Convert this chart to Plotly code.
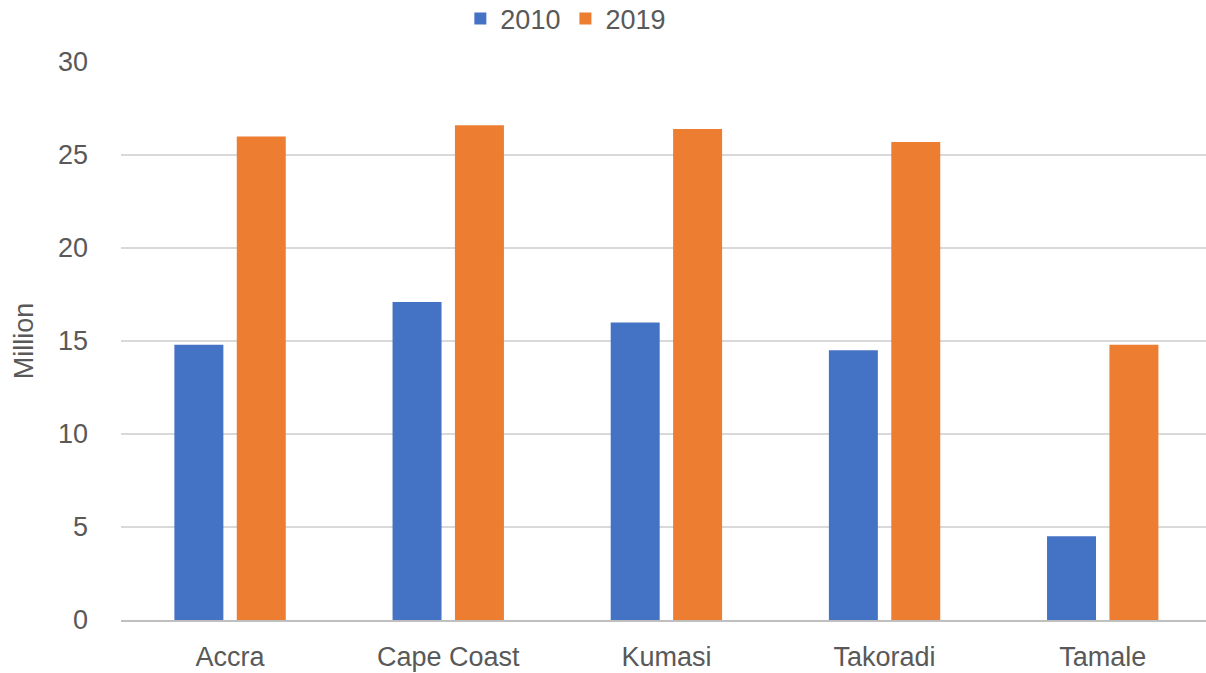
import plotly.graph_objects as go

# Cities and values (million)
cities = ["Accra", "Cape Coast", "Kumasi", "Takoradi", "Tamale"]
values_2010 = [14.8, 17.1, 16.0, 14.5, 4.5]
values_2019 = [26.0, 26.6, 26.4, 25.7, 14.8]
y_ticks = [0, 5, 10, 15, 20, 25, 30]

BLUE = "#4472C4"
ORANGE = "#ED7D31"
TEXT = "#595959"
FONT = "Liberation Sans"
SIZE = 27

fig = go.Figure()
fig.add_trace(go.Bar(name="2010", x=cities, y=values_2010, marker_color=BLUE,
                     marker_line_width=0))
fig.add_trace(go.Bar(name="2019", x=cities, y=values_2019, marker_color=ORANGE,
                     marker_line_width=0))

fig.update_layout(
    width=1206, height=673,
    margin=dict(l=121, r=0, t=62, b=53, autoexpand=False),
    paper_bgcolor="white", plot_bgcolor="white",
    barmode="group", bargap=0.428, bargroupgap=0.215,
    font=dict(family=FONT, color=TEXT, size=SIZE),
    legend=dict(orientation="h", x=0.41, xanchor="center",
                y=0.972, yref="container", yanchor="middle",
                font=dict(size=SIZE, color=TEXT), itemwidth=30, tracegroupgap=0,
                bgcolor="rgba(0,0,0,0)"),
    xaxis=dict(range=[-0.5, 4.4734], showgrid=False, showline=True,
               linecolor="#BFBFBF", linewidth=1.5, ticks="",
               ticklabelstandoff=12, tickfont=dict(size=SIZE, color=TEXT)),
    yaxis=dict(range=[0, 30], tickvals=y_ticks, showgrid=True,
               gridcolor="#D9D9D9", gridwidth=1.5, zeroline=False, showline=False,
               ticklabelstandoff=32, tickfont=dict(size=SIZE, color=TEXT),
               title=dict(text="Million", font=dict(size=SIZE, color=TEXT), standoff=16)),
)

fig.write_html("out.html")
